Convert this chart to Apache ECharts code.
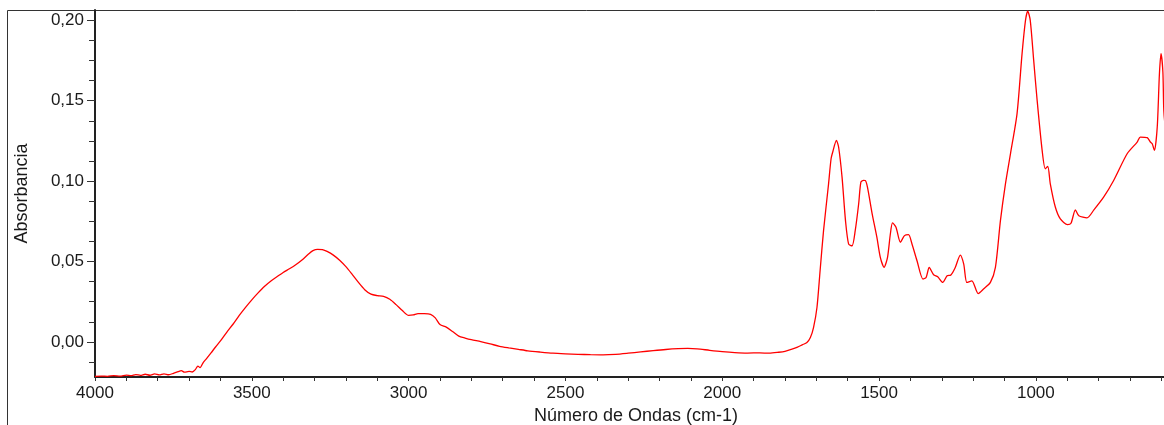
<!DOCTYPE html>
<html>
<head>
<meta charset="utf-8">
<script src="https://cdn.jsdelivr.net/npm/echarts@6/dist/echarts.min.js"></script>
<style>
html,body{margin:0;padding:0;background:#fff;}
#c{width:1164px;height:425px;}
</style>
</head>
<body>
<div id="c"></div>
<script>
// Wavenumber (cm-1) and absorbance
const wavenumbers = [
4000,3980,3960,3940,3920,3900,3885,3870,3855,3840,3825,3810,3795,3780,3765,3750,3735,3725,3715,3700,
3690,3680,3672,3665,3655,3645,3630,3615,3600,3580,3560,3540,3520,3500,3480,3460,3440,3420,3400,3380,
3360,3340,3320,3305,3290,3275,3260,3240,3220,3200,3180,3160,3140,3120,3100,3080,3060,3040,3020,3000,
2985,2970,2950,2930,2915,2900,2880,2860,2840,2820,2800,2770,2740,2710,2680,2650,2620,2580,2540,2500,
2460,2420,2380,2340,2300,2260,2220,2180,2140,2110,2080,2040,2000,1960,1920,1880,1850,1820,1800,1780,
1760,1745,1730,1719,1709,1698,1688,1677,1661,1653,1647,1636,1629,1618,1607,1597,1586,1576,1565,1558,
1550,1544,1537,1522,1507,1496,1484,1473,1464,1457,1446,1432,1419,1406,1395,1379,1360,1350,1340,1326,
1313,1297,1283,1271,1257,1241,1230,1220,1204,1184,1167,1145,1129,1113,1097,1081,1060,1044,1033,1026,
1018,1007,996,980,970,962,954,938,922,899,888,874,863,837,815,784,752,709,677,667,
645,635,629,622,613,606,601,595,592,585,575
];
const absorbance = [
-0.0214,-0.0212,-0.0214,-0.0209,-0.0213,-0.0206,-0.0210,-0.0203,-0.0208,-0.0201,-0.0207,-0.0199,-0.0205,-0.0198,-0.0204,-0.0195,-0.0185,-0.0178,-0.0188,-0.0183,
-0.0187,-0.0172,-0.0150,-0.0160,-0.0128,-0.0105,-0.0068,-0.0030,0.0006,0.0060,0.0110,0.0165,0.0215,0.0262,0.0305,0.0345,0.0378,0.0405,0.0432,0.0455,
0.0480,0.0510,0.0545,0.0568,0.0576,0.0574,0.0563,0.0540,0.0508,0.0468,0.0420,0.0370,0.0325,0.0297,0.0288,0.0283,0.0265,0.0232,0.0195,0.0165,
0.0168,0.0176,0.0176,0.0172,0.0150,0.0108,0.0092,0.0065,0.0036,0.0024,0.0014,0.0002,-0.0012,-0.0027,-0.0037,-0.0046,-0.0055,-0.0063,-0.0070,-0.0074,
-0.0077,-0.0079,-0.0080,-0.0077,-0.0070,-0.0062,-0.0054,-0.0047,-0.0042,-0.0040,-0.0043,-0.0052,-0.0060,-0.0066,-0.0069,-0.0068,-0.0070,-0.0064,-0.0058,-0.0046,
-0.0032,-0.0018,-0.0004,0.0027,0.0089,0.0214,0.0443,0.0692,0.0983,0.1139,0.1186,0.1253,0.1212,0.1025,0.0754,0.0608,0.0598,0.0692,0.0859,0.0993,
0.1005,0.1004,0.0963,0.0797,0.0651,0.0526,0.0464,0.0526,0.0671,0.0740,0.0713,0.0620,0.0661,0.0667,0.0609,0.0505,0.0391,0.0401,0.0463,0.0418,
0.0405,0.0370,0.0411,0.0416,0.0463,0.0540,0.0484,0.0370,0.0380,0.0301,0.0329,0.0370,0.0463,0.0754,0.0983,0.1170,0.1420,0.1793,0.2001,0.2057,
0.2001,0.1752,0.1503,0.1191,0.1077,0.1091,0.0983,0.0839,0.0765,0.0730,0.0738,0.0821,0.0785,0.0771,0.0821,0.0900,0.1004,0.1170,0.1243,0.1274,
0.1270,0.1243,0.1232,0.1191,0.1336,0.1669,0.1793,0.1679,0.1440,0.1300,0.1200
];
const xTickLabels = [1000,1500,2000,2500,3000,3500,4000];
const xMinorTicks = [600,700,800,900,1000,1100,1200,1300,1400,1500,1600,1700,1800,1900,2000,2100,2200,2300,2400,2500,2600,2700,2800,2900,3000,3100,3200,3300,3400,3500,3600,3700,3800,3900,4000];
const yTickLabels = [0,0.05,0.10,0.15,0.20];
const yMinorTicks = [-0.0125,0.0125,0.025,0.0375,0.0625,0.075,0.0875,0.1125,0.125,0.1375,0.1625,0.175,0.1875];

const chart = echarts.init(document.getElementById('c'), null, {renderer:'canvas'});
const FONT = '"Liberation Sans", Arial, sans-serif';
const TXT = '#1a1a1a';
const pts = wavenumbers.map((w,i)=>[w, absorbance[i]]);

chart.setOption({
  animation:false,
  backgroundColor:'#fff',
  graphic:[{
    type:'rect', silent:true, z:-1,
    shape:{x:7.5,y:10.5,width:1300,height:600},
    style:{fill:'none', stroke:'#333', lineWidth:1}
  }],
  grid:{left:95, top:10, width:1082, height:367, containLabel:false, outerBoundsMode:'none'},
  xAxis:{
    type:'value', inverse:true, min:550, max:4000,
    name:'Número de Ondas (cm-1)', nameLocation:'middle', nameGap:30,
    nameTextStyle:{fontFamily:FONT, fontSize:18, color:TXT},
    axisLine:{show:true, onZero:false, lineStyle:{color:'#222', width:2}},
    axisTick:{show:true, customValues:xMinorTicks, length:4, lineStyle:{color:'#333', width:1}},
    axisLabel:{customValues:xTickLabels, margin:8, fontFamily:FONT, fontSize:17, color:TXT,
      formatter:v=>String(v)},
    splitLine:{show:false}
  },
  yAxis:[{
    type:'value', min:-0.0218, max:0.2064,
    name:'Absorbancia', nameLocation:'middle', nameGap:64,
    nameTextStyle:{fontFamily:FONT, fontSize:18, color:TXT},
    axisLine:{show:true, onZero:false, lineStyle:{color:'#222', width:2}},
    axisTick:{show:true, customValues:yTickLabels, length:8, lineStyle:{color:'#333', width:1}},
    axisLabel:{customValues:yTickLabels, margin:11, fontFamily:FONT, fontSize:17, color:TXT,
      formatter:v=>v.toFixed(2).replace('.',',')},
    splitLine:{show:false}
  },{
    type:'value', min:-0.0218, max:0.2064, position:'left',
    axisLine:{show:false},
    axisTick:{show:true, customValues:yMinorTicks, length:6, lineStyle:{color:'#333', width:1}},
    axisLabel:{show:false},
    splitLine:{show:false}
  }],
  series:[{
    type:'line', data:pts, yAxisIndex:0, showSymbol:false, smooth:0.25,
    lineStyle:{color:'#ff0000', width:1.3}, clip:true
  }]
});
</script>
</body>
</html>
